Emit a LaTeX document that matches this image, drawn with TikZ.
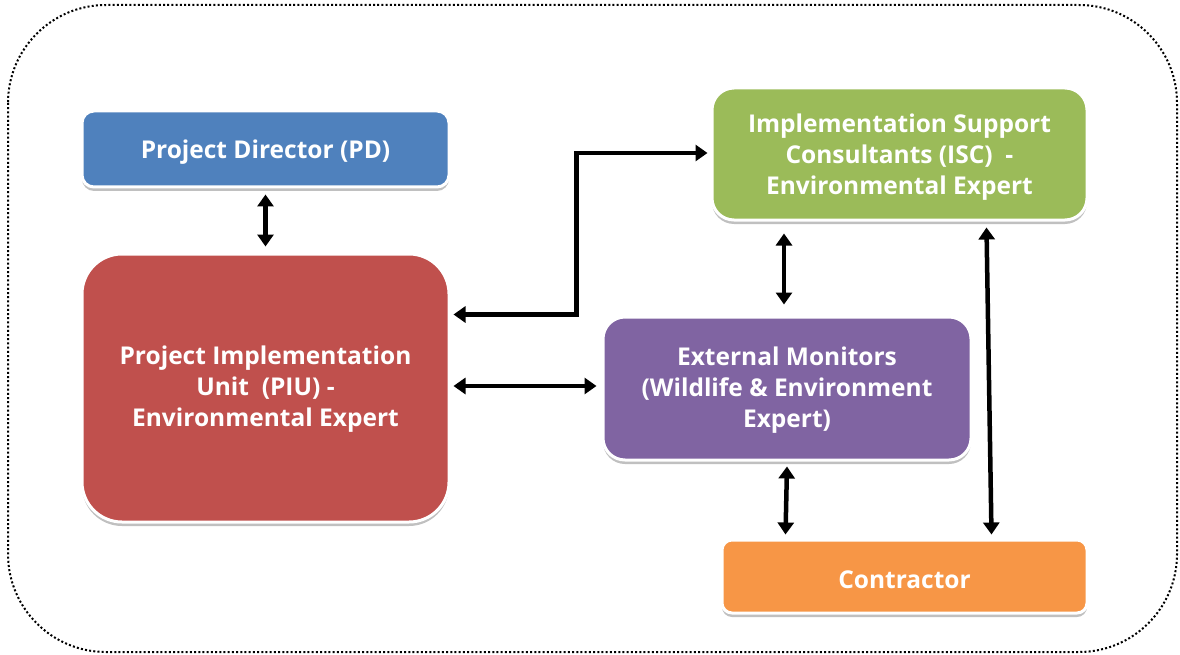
\documentclass[tikz,border=0pt]{standalone}
\usepackage{fontspec}
\setmainfont{Open Sans}
\usetikzlibrary{arrows.meta,calc,shadows}

\definecolor{pdblue}{HTML}{4F81BD}
\definecolor{piured}{HTML}{C0504D}
\definecolor{iscgreen}{HTML}{9BBB59}
\definecolor{empurple}{HTML}{8064A2}
\definecolor{controrange}{HTML}{F79646}

\tikzset{
  unitbox/.style={draw=white, line width=3pt, inner sep=0pt,
    drop shadow={shadow xshift=0pt, shadow yshift=-4pt, opacity=0.45, fill=black!55}},
  boxtext/.style={align=center, text=white, inner sep=0pt,
    font=\bfseries\fontsize{24.5}{31}\selectfont},
  biarrow/.style={line width=4.5pt, {Triangle[length=12pt,width=16pt]}-{Triangle[length=12pt,width=16pt]}},
  frame/.style={line width=2pt, dash pattern=on 2pt off 2.2pt, rounded corners=98pt}
}

\begin{document}
\begin{tikzpicture}[x=1pt,y=-1pt]
  \useasboundingbox (0,0) rectangle (1180,655);

  % dotted outer frame
  \draw[frame] (8,5) rectangle (1177,652);

  % organisation units
  \node[unitbox, fill=pdblue, rounded corners=12pt, minimum width=367pt, minimum height=76pt]
    (pd) at (265.5,149) {};
  \node[unitbox, fill=piured, rounded corners=40pt, minimum width=367pt, minimum height=268pt]
    (piu) at (265.5,388) {};
  \node[unitbox, fill=iscgreen, rounded corners=22pt, minimum width=375pt, minimum height=132pt]
    (isc) at (899.5,154) {};
  \node[unitbox, fill=empurple, rounded corners=22pt, minimum width=368pt, minimum height=143pt]
    (em) at (787,388.5) {};
  \node[unitbox, fill=controrange, rounded corners=10pt, minimum width=365pt, minimum height=73pt]
    (contr) at (904.5,576.5) {};

  % unit titles
  \node[boxtext] (pd-t) at ($(pd.center)+(0,3)$) {Project Director (PD)};
  \node[boxtext] (piu-t) at ($(piu.center)+(0,1)$) {Project Implementation\\Unit\ \ (PIU) -\\Environmental Expert};
  \node[boxtext] (isc-t) at ($(isc.center)+(0,3.5)$) {Implementation Support\\Consultants (ISC)\ \ -\\Environmental Expert};
  \node[boxtext] (em-t) at ($(em.center)+(0,1.5)$) {External Monitors\\(Wildlife \& Environment\\Expert)};
  \node[boxtext] (contr-t) at ($(contr.center)+(0,3)$) {Contractor};

  % reporting links
  \draw[biarrow] ($(pd.south)+(0,6)$) -- ($(piu.north)+(0,-6)$);
  \draw[biarrow] ($(piu.north east)+(3,62)$) -| ($(isc.west)+(-134,-1)$) -- ($(isc.west)+(-3,-1)$);
  \draw[biarrow] ($(piu.east)+(3,-2)$) -- ($(em.west)+(-5,-2.5)$);
  \draw[biarrow] ($(isc.south)+(-115.5,12)$) -- ($(em.north)+(-3,-11)$);
  \draw[biarrow] ($(em.south)+(0,5)$) -- ($(contr.north west)+(65,-4)$);
  \draw[biarrow] ($(isc.south east)+(-102,6)$) -- ($(contr.north east)+(-97,-4)$);
\end{tikzpicture}
\end{document}
